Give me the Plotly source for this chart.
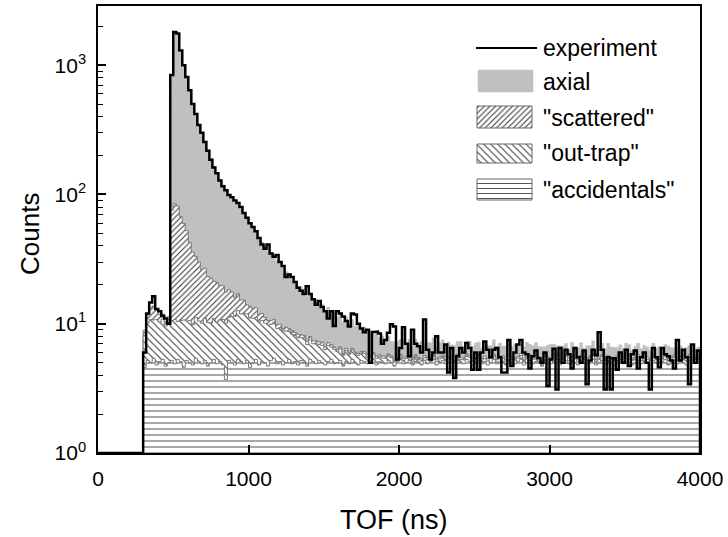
import numpy as np
import plotly.graph_objects as go

# ---------------- data (20 ns bins starting at 300 ns) ----------------
bin_start_ns = 300
bin_width_ns = 20

experiment = [
    6, 12, 14.6, 16.3, 13, 12.5, 11.5, 11, 10, 840,
    1810, 1760, 1300, 1000, 810, 640, 500, 420, 345, 300,
    255, 218, 186, 162, 146, 128, 116, 108, 99, 95,
    90, 86, 80, 72, 66, 60, 56, 52, 46, 41,
    38, 41, 35, 33, 34, 30, 28, 23, 24, 23,
    21, 19, 18, 17, 19.5, 17, 15.5, 14, 15, 13.5,
    12.5, 11, 12.5, 9.6, 12.5, 12, 11.4, 10.5, 9.5, 12,
    11.8, 10, 9.2, 8.6, 9, 5, 8.6, 8.7, 8.4, 7,
    7.5, 8.5, 9.9, 9.5, 5.3, 6.5, 9.4, 7, 5.6, 9,
    7, 6.7, 6, 10.8, 6.3, 5.3, 6, 8, 6, 6,
    6.9, 4.2, 6.5, 3.8, 5.6, 6.5, 6, 7.1, 6.5, 4.4,
    6, 4.4, 6, 7.3, 6.3, 5.5, 6.3, 6.5, 5.5, 4.2,
    4.2, 7.5, 4.7, 6, 6.9, 7.5, 6, 5.8, 4.5, 5.6,
    6.2, 5.4, 5.0, 6, 3.3, 5.3, 6.4, 3.1, 6.5, 5,
    6.3, 5.8, 4.5, 6.5, 5.5, 5.0, 6.2, 3.4, 5.2, 6.3,
    5.7, 8.6, 6.3, 3.1, 5.5, 3.1, 5.4, 4.4, 6, 5,
    6.3, 4.7, 5.8, 6.2, 4.5, 5.5, 6.0, 5.0, 3.1, 6.5,
    5.5, 4.6, 6.5, 5.8, 5.6, 5.2, 4.5, 7.5, 5.2, 6.3,
    5.5, 3.4, 6.9, 5, 6.2,
]

accidentals = [
    4.6, 5.2, 5.0, 5.4, 4.8, 5.1, 5.3, 4.7, 5.0, 5.2,
    4.9, 5.3, 5.1, 4.6, 5.2, 5.0, 4.8, 5.4, 5.1, 4.9,
    5.2, 4.7, 5.0, 5.3, 4.9, 5.1, 4.8, 3.7, 5.2, 5.0,
    4.8, 5.3, 5.1, 4.9, 5.2, 4.6, 5.0, 5.3, 4.8, 5.1,
    5.0, 4.7, 5.2, 5.4, 4.9, 5.1, 4.8, 5.0, 5.3, 4.9,
    5.1, 4.8, 5.2, 5.0, 4.7, 5.3, 5.1, 4.9, 5.2, 5.0,
    4.8, 5.1, 5.3, 4.9, 5.0, 5.2, 4.7, 5.1, 4.9, 5.3,
    5.0, 4.8, 5.2, 5.1, 4.9, 5.0, 5.3, 4.8, 5.1, 5.0,
    4.9, 5.2, 5.0, 4.7, 5.1, 5.3, 4.9, 5.0, 5.2, 4.8,
    5.1, 5.0, 4.8, 5.2, 4.9, 5.1, 5.3, 4.8, 5.0, 5.2,
    4.9, 5.1, 5.0, 4.7, 5.2, 5.0, 4.9, 5.3, 5.1, 4.8,
    5.0, 5.2, 4.9, 5.1, 4.8, 5.0, 5.3, 4.9, 5.1, 5.0,
    4.8, 5.2, 5.0, 4.9, 5.1, 5.3, 4.8, 5.0, 5.2, 4.9,
    5.1, 5.0, 4.7, 5.2, 5.0, 4.9, 5.1, 5.3, 4.8, 5.0,
    5.2, 4.9, 5.1, 5.0, 4.8, 5.2, 5.0, 4.9, 5.1, 5.3,
    4.8, 5.0, 5.2, 4.9, 5.1, 5.0, 4.8, 5.2, 5.0, 4.9,
    5.1, 5.3, 4.8, 5.0, 5.2, 4.9, 5.1, 5.0, 4.8, 5.2,
    5.0, 4.9, 5.1, 5.3, 4.8, 5.0, 5.2, 4.9, 5.1, 5.0,
    4.8, 5.2, 5.0, 4.9, 5.1,
]

out_trap = [
    3.5, 5.0, 5.8, 5.3, 6.0, 5.2, 5.6, 4.9, 5.7, 5.4,
    5.9, 5.1, 5.5, 6.1, 5.3, 5.6, 5.0, 5.8, 5.4, 5.2,
    5.9, 5.5, 5.1, 5.7, 5.4, 5.6, 6.0, 6.4, 6.0, 7.0,
    6.6, 7.3, 6.8, 7.1, 6.7, 6.5, 6.0, 5.9, 5.5, 5.5,
    5.1, 5.1, 4.7, 4.7, 4.3, 4.2, 3.8, 3.8, 3.4, 3.4,
    3.0, 3.0, 2.6, 2.6, 2.2, 2.2, 1.9, 2.1, 1.7, 1.8,
    1.5, 1.7, 1.3, 1.4, 1.1, 1.2, 1.0, 1.1, 0.9, 1.0,
    0.8, 0.9, 0.7, 0.8, 0.6, 0.7, 0.5, 0.6, 0.5, 0.45,
    0.5, 0.4, 0.45, 0.35, 0.4,
    0.35, 0.30, 0.40, 0.28, 0.36, 0.42, 0.30, 0.34, 0.27, 0.38,
    0.33, 0.41, 0.29, 0.35, 0.31, 0.39, 0.26, 0.37, 0.32, 0.40,
    0.30, 0.34, 0.28, 0.38, 0.35, 0.29, 0.41, 0.33, 0.27, 0.36,
    0.39, 0.31, 0.35, 0.28, 0.40, 0.32, 0.37, 0.29, 0.34, 0.30,
    0.38, 0.27, 0.36, 0.33, 0.41, 0.30, 0.35, 0.28, 0.39, 0.32,
    0.34, 0.40, 0.29, 0.37, 0.31, 0.36, 0.27, 0.38, 0.33, 0.30,
    0.35, 0.28, 0.41, 0.32, 0.37, 0.29, 0.34, 0.39, 0.30, 0.36,
    0.31, 0.38, 0.27, 0.35, 0.40, 0.33, 0.29, 0.36, 0.32, 0.38,
    0.30, 0.34, 0.28, 0.39, 0.35, 0.31, 0.37, 0.29, 0.33, 0.40,
    0.32, 0.36, 0.28, 0.35, 0.30, 0.38, 0.34, 0.29, 0.37, 0.31,
]

scattered = [
    0.8, 1.5, 2.5, 3.0, 2.2, 1.5, 1.0, 0.8, 0.6,
    65, 74, 71, 57, 49, 42, 32, 26, 22, 19.5,
    16.2, 15.8, 13.0, 12.5, 10.3, 10.6, 9.0, 8.9, 7.5, 7.1,
    5.6, 4.6, 4.5, 3.4, 3.2, 2.1, 2.5, 2.1, 2.1, 1.5,
    1.4, 1.1, 0.8, 0.7, 0.7, 0.6, 0.65, 0.55, 0.6, 0.5,
    0.55, 0.45, 0.5, 0.4, 0.5, 0.4, 0.45, 0.35, 0.4, 0.35,
    0.4, 0.3, 0.35, 0.3, 0.3, 0.25,
    0.22, 0.18, 0.25, 0.20, 0.16, 0.23, 0.19, 0.21, 0.17, 0.24,
    0.20, 0.18, 0.22, 0.15, 0.21, 0.19, 0.24, 0.17, 0.20, 0.22,
    0.16, 0.23, 0.19, 0.21, 0.18, 0.25, 0.17, 0.20, 0.22, 0.19,
    0.21, 0.16, 0.24, 0.18, 0.20, 0.23, 0.17, 0.21, 0.19, 0.22,
    0.18, 0.20, 0.25, 0.16, 0.22, 0.19, 0.21, 0.17, 0.23, 0.20,
    0.19, 0.22, 0.17, 0.21, 0.24, 0.18, 0.20, 0.16, 0.23, 0.19,
    0.21, 0.18, 0.22, 0.20, 0.17, 0.24, 0.19, 0.21, 0.16, 0.22,
    0.20, 0.23, 0.18, 0.19, 0.21, 0.17, 0.25, 0.20, 0.18, 0.22,
    0.19, 0.21, 0.16, 0.23, 0.20, 0.18, 0.22, 0.17, 0.24, 0.19,
    0.21, 0.20, 0.18, 0.22, 0.16, 0.23, 0.19, 0.21, 0.17, 0.20,
    0.22, 0.18, 0.24, 0.19, 0.21, 0.16, 0.20, 0.23, 0.18, 0.22,
    0.19, 0.21, 0.17, 0.20, 0.24, 0.18, 0.22, 0.19, 0.21, 0.20,
]

axial = [
    0, 0, 0, 0, 0, 0, 0, 0, 0,
    755, 1705, 1640, 1190, 930, 748, 588, 468, 388, 320,
    272, 232, 198, 168, 144, 125, 110, 99, 90, 82,
    77, 71, 67, 62, 57, 52, 47, 43, 38, 35,
    31, 29, 26, 24.5, 22.7, 21,
    19.3, 18.0, 15.9, 15.5, 13.2, 12.9, 11.2, 11.2, 10.4, 9.0,
    9.3, 8.0, 8.1, 6.9, 7.0, 6.0, 6.3, 5.2, 5.8, 5.0,
    5.4, 4.5, 4.8, 4.0, 4.3, 3.6, 3.9, 3.1, 3.4, 2.8,
    3.0, 2.4, 2.7, 2.1, 2.4, 1.9, 2.2, 1.7, 2.0, 1.6,
    1.7, 2.1, 1.5, 1.9, 1.4, 1.8, 1.6, 2.0, 1.3, 1.7,
    1.5, 1.9, 1.2, 1.6, 1.8, 1.4, 1.7, 1.3, 1.6, 1.5,
    1.8, 1.2, 1.5, 1.7, 1.3, 1.6, 1.4, 1.1, 1.6, 1.4,
    1.2, 1.7, 1.3, 1.5, 1.1, 1.4, 1.6, 1.2, 1.5, 1.3,
    1.0, 1.4, 1.6, 1.2, 1.3, 1.5, 1.1, 1.4, 0.9, 1.3,
    1.5, 1.2, 1.0, 1.4, 1.2, 1.3, 0.9, 1.5, 1.1, 1.2,
    1.4, 1.0, 1.3, 1.1, 1.5, 0.9, 1.2, 1.3, 1.0, 1.4,
    1.1, 1.2, 0.9, 1.3, 1.0, 1.4, 1.1, 0.9, 1.2, 1.3,
    1.0, 1.2, 1.1, 0.8, 1.3, 1.0, 1.2, 0.9, 1.1, 1.3,
    1.0, 0.8, 1.2, 1.1, 0.9, 1.2, 1.0, 1.1, 0.9, 1.0,
]

legend_labels = ["experiment", "axial", '"scattered"', '"out-trap"', '"accidentals"']
x_ticks = [0, 1000, 2000, 3000, 4000]
y_ticks = [1, 10, 100, 1000]
y_ticktext = ["10<sup>0</sup>", "10<sup>1</sup>", "10<sup>2</sup>", "10<sup>3</sup>"]
x_range = [0, 4000]
counts_floor = 1  # bottom of the log axis (10^0)

# ---------------- helpers ----------------
n = len(experiment)
edges = bin_start_ns + bin_width_ns * np.arange(n + 1)

acc = np.array(accidentals)
c_out = acc + np.array(out_trap)
c_scat = c_out + np.array(scattered)
c_total = c_scat + np.array(axial)


def steps(vals):
    xs, ys = [], []
    for i, v in enumerate(vals):
        xs += [edges[i], edges[i + 1]]
        ys += [float(v), float(v)]
    return xs, ys


def closed(vals):
    xs, ys = steps(vals)
    return [edges[0]] + xs + [edges[-1]], [counts_floor] + ys + [counts_floor]


FONT = "Liberation Sans, Arial, Helvetica, sans-serif"
OUTLINE = "#7a7a7a"
GRAYFILL = "#c0c0c0"
pat_scat = dict(shape="/", fgcolor="#333333", bgcolor="white", size=4, solidity=0.25, fillmode="replace")
pat_out = dict(shape="\\", fgcolor="#333333", bgcolor="white", size=5, solidity=0.2, fillmode="replace")
pat_acc = dict(shape="-", fgcolor="#555555", bgcolor="white", size=6, solidity=0.17, fillmode="replace")

fig = go.Figure()

x, y = closed(c_total)
fig.add_trace(go.Scatter(x=x, y=y, mode="lines", fill="toself", fillcolor=GRAYFILL,
                         line=dict(color=GRAYFILL, width=0.5), showlegend=False, hoverinfo="skip"))
x, y = closed(c_scat)
fig.add_trace(go.Scatter(x=x, y=y, mode="lines", fill="toself", fillcolor="white", fillpattern=pat_scat,
                         line=dict(color=OUTLINE, width=1), showlegend=False, hoverinfo="skip"))
x, y = closed(c_out)
fig.add_trace(go.Scatter(x=x, y=y, mode="lines", fill="toself", fillcolor="white", fillpattern=pat_out,
                         line=dict(color=OUTLINE, width=1), showlegend=False, hoverinfo="skip"))
x, y = closed(acc)
fig.add_trace(go.Scatter(x=x, y=y, mode="lines", fill="toself", fillcolor="white", fillpattern=pat_acc,
                         line=dict(color=OUTLINE, width=1), showlegend=False, hoverinfo="skip"))
xs, ys = steps(experiment)
fig.add_trace(go.Scatter(x=[x_range[0], edges[0]] + xs + [edges[-1]],
                         y=[counts_floor, counts_floor] + ys + [counts_floor],
                         mode="lines", line=dict(color="black", width=2.5), showlegend=False,
                         hoverinfo="skip"))

# ---------------- legend drawn on a pixel-scaled overlay axis ----------------
PX_L, PX_R, PX_T, PX_B = 98, 700, 6, 453
W, H = 728, 537


def rect(x0, x1, y0, y1):
    return [x0, x1, x1, x0, x0], [y0, y0, y1, y1, y0]


def px2paper(px, py):
    return (px - PX_L) / (PX_R - PX_L), (PX_B - py) / (PX_B - PX_T)


lx0, lx1 = 477, 532
fig.add_trace(go.Scatter(x=[476, 537], y=[48, 48], mode="lines", line=dict(color="black", width=2),
                         xaxis="x2", yaxis="y2", showlegend=False, hoverinfo="skip"))
rx, ry = rect(lx0 + 1, lx1 + 1, 70, 92)
fig.add_trace(go.Scatter(x=rx, y=ry, mode="lines", fill="toself", fillcolor=GRAYFILL,
                         line=dict(color=GRAYFILL, width=0.5), xaxis="x2", yaxis="y2",
                         showlegend=False, hoverinfo="skip"))
for (y0, y1, pat) in [(106, 128, pat_scat), (144, 163, dict(pat_out)), (179, 200, dict(pat_acc, size=5, solidity=0.2))]:
    rx, ry = rect(lx0, lx1, y0, y1)
    fig.add_trace(go.Scatter(x=rx, y=ry, mode="lines", fill="toself", fillcolor="white", fillpattern=pat,
                             line=dict(color="#666666", width=1), xaxis="x2", yaxis="y2",
                             showlegend=False, hoverinfo="skip"))

annotations = []
for lab, yy in zip(legend_labels, [48, 82, 118, 153, 190]):
    annotations.append(dict(x=541, y=yy, xref="x2", yref="y2", text=lab, showarrow=False,
                            xanchor="left", yanchor="middle", font=dict(family=FONT, size=23, color="black")))
tx, ty = px2paper((PX_L + PX_R) / 2 - 5, 520)
annotations.append(dict(x=tx, y=ty, xref="paper", yref="paper", text="TOF (ns)", showarrow=False,
                        xanchor="center", yanchor="middle", font=dict(family=FONT, size=27, color="black")))
cx, cy = px2paper(30, 234)
annotations.append(dict(x=cx, y=cy, xref="paper", yref="paper", text="Counts", showarrow=False, textangle=-90,
                        xanchor="center", yanchor="middle", font=dict(family=FONT, size=26, color="black")))

minor_vals = [m * 10 ** k for k in range(0, 4) for m in range(2, 10) if m * 10 ** k < 2900]

fig.update_layout(
    width=W, height=H,
    margin=dict(l=PX_L, r=W - PX_R, t=PX_T, b=H - PX_B, autoexpand=False),
    paper_bgcolor="white", plot_bgcolor="white",
    font=dict(family=FONT, color="black"),
    showlegend=False,
    annotations=annotations,
    xaxis=dict(range=x_range, tickvals=x_ticks, ticks="inside", ticklen=8, tickwidth=1.5,
               tickcolor="black", showline=True, linewidth=1.5, linecolor="black", mirror=True,
               showgrid=False, zeroline=False, tickfont=dict(size=21), ticklabelstandoff=6),
    yaxis=dict(type="log", range=[0, 3.458], tickvals=y_ticks, ticktext=y_ticktext, ticks="inside",
               ticklen=8, tickwidth=1.5, tickcolor="black", showline=True, linewidth=1.5,
               linecolor="black", mirror=True, showgrid=False, zeroline=False,
               tickfont=dict(size=21), ticklabelstandoff=6,
               minor=dict(tickvals=minor_vals, ticks="inside", ticklen=5, tickwidth=1, tickcolor="black")),
    xaxis2=dict(overlaying="x", range=[PX_L, PX_R], visible=False, anchor="y2"),
    yaxis2=dict(overlaying="y", range=[PX_B, PX_T], visible=False, anchor="x2"),
)

fig.write_html("out.html", config={"displayModeBar": False},
               post_script="document.body.style.margin='0';document.body.style.overflow='hidden';")
